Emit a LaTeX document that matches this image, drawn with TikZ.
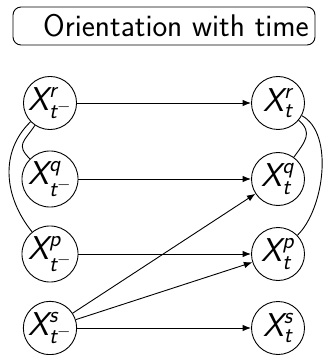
\documentclass[tikz,border=0pt]{standalone}
\usepackage{amsmath}
\usetikzlibrary{arrows.meta}
% sans oblique letters for the state labels
\newcommand{\sfl}[1]{\text{\sffamily\slshape #1}}
\newcommand{\var}[2]{$\sfl{X}^{\sfl{#1}}_{#2}$}
\begin{document}
\begin{tikzpicture}[x=1pt,y=1pt,
  state/.style={circle,draw,line width=0.9pt,minimum size=53pt,inner sep=0pt,
    font=\fontsize{33}{36}\selectfont},
  link/.style={line width=0.9pt},
  flow/.style={line width=0.9pt,-{Latex[length=8.5pt,width=6.5pt]}}]
\useasboundingbox (0,0) rectangle (322,-355);

% title box
\draw[line width=0.9pt,rounded corners=8pt] (13,-7) rectangle (315,-45);
\node[anchor=base west,inner sep=0pt,font=\fontsize{31.3}{34}\selectfont\sffamily]
  (title) at (43,-36.5) {Orientation with time};

% states before the change
\node[state] (rl) at (50,-103) {\var{r}{\sfl{t}^{-}}};
\node[state] (ql) at (50,-179) {\var{q}{\sfl{t}^{-}}};
\node[state] (pl) at (50,-254) {\var{p}{\sfl{t}^{-}}};
\node[state] (sl) at (50,-328) {\var{s}{\sfl{t}^{-}}};

% states after the change
\node[state] (rr) at (278,-103) {\var{r}{\sfl{t}}};
\node[state] (qr) at (278,-179) {\var{q}{\sfl{t}}};
\node[state] (pr) at (278,-254) {\var{p}{\sfl{t}}};
\node[state] (sr) at (278,-328) {\var{s}{\sfl{t}}};

% undirected links on the left
\draw[link] (rl.236) .. controls +(236:20) and +(135:20) .. (ql.135);
\draw[link] (rl.224) .. controls +(224:44) and +(129:44) .. (pl.129);

% undirected links on the right
\draw[link] (rr.-40) .. controls +(-40:19) and +(54:19) .. (qr.54);
\draw[link] (rr.-28) .. controls +(-28:37) and +(44:37) .. (pr.44);

% directed edges
\draw[flow] (rl) -- (rr);
\draw[flow] (ql) -- (qr);
\draw[flow] (pl) -- (pr);
\draw[flow] (sl) -- (sr);
\draw[flow] (sl) -- (qr);
\draw[flow] (sl) -- (pr);
\end{tikzpicture}
\end{document}
